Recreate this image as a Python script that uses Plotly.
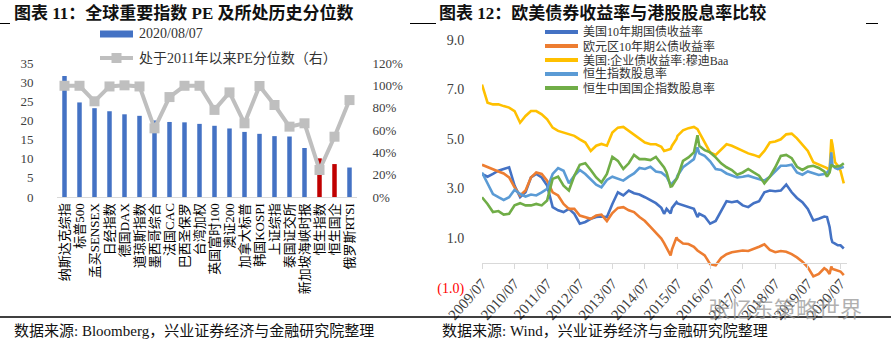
import plotly.graph_objects as go

W, H = 891, 347
SERIF = "Liberation Serif, Noto Sans CJK SC, serif"

# ---------------- Left chart data ----------------
INDEX_NAMES = ["纳斯达克综指", "标普500", "孟买SENSEX", "日经指数", "德国DAX", "道琼斯指数",
               "墨西哥综合", "法国CAC", "巴西圣保罗", "台湾加权", "英国富时100", "澳证200",
               "加拿大标普", "韩国KOSPI", "上证综指", "泰国证交所", "新加坡海峡时报",
               "恒生指数", "恒生国企", "俄罗斯RTSI"]
PE_VALUES = [31.6, 24.7, 23.2, 22.4, 21.6, 21.2, 20.0, 19.6, 19.5, 19.1,
             18.6, 17.9, 17.0, 16.5, 15.9, 15.8, 12.8, 10.1, 8.6, 7.7]
PE_PERCENTILE = [99.6, 99.6, 85.7, 99.0, 100.0, 99.0, 61.5, 89.5, 99.6, 99.6,
                 78.0, 93.7, 66.0, 99.4, 82.4, 63.0, 66.0, 24.2, 54.0, 86.8]
HIGHLIGHT = ["恒生指数", "恒生国企"]
PE_LABEL = "2020/08/07"
PCT_LABEL = "处于2011年以来PE分位数（右）"

# ---------------- Right chart data ----------------
DATES = [
    "2009-07-01", "2009-09-01", "2009-11-01",
    "2010-01-01", "2010-03-01", "2010-05-01", "2010-07-01", "2010-09-01", "2010-11-01",
    "2011-01-01", "2011-03-01", "2011-05-01", "2011-07-01", "2011-09-01", "2011-11-01",
    "2012-01-01", "2012-03-01", "2012-05-01", "2012-07-01", "2012-09-01", "2012-11-01",
    "2013-01-01", "2013-03-01", "2013-05-01", "2013-07-01", "2013-09-01", "2013-11-01",
    "2014-01-01", "2014-03-01", "2014-05-01", "2014-07-01", "2014-09-01", "2014-11-01",
    "2015-01-01", "2015-02-01", "2015-03-01", "2015-04-15", "2015-05-01", "2015-06-20", "2015-07-01", "2015-09-01", "2015-11-01",
    "2016-01-01", "2016-02-10", "2016-03-01", "2016-05-01", "2016-07-01", "2016-09-01", "2016-11-01",
    "2017-01-01", "2017-03-01", "2017-05-01", "2017-07-01", "2017-09-01", "2017-11-01",
    "2018-01-01", "2018-03-01", "2018-05-01", "2018-07-01", "2018-09-01", "2018-11-01",
    "2019-01-01", "2019-03-01", "2019-05-01", "2019-07-01", "2019-09-01", "2019-11-01",
    "2020-01-01", "2020-02-01", "2020-03-01", "2020-03-20", "2020-04-01", "2020-05-01", "2020-06-01", "2020-07-01", "2020-08-07",
]
US_10Y = [
    3.59, 3.48, 3.59,
    3.72, 3.79, 3.86, 3.12, 2.65, 2.85,
    3.45, 3.59, 3.45, 3.12, 2.25, 2.12,
    2.05, 2.18, 1.98, 1.58, 1.65, 1.78,
    1.85, 1.87, 1.85, 2.38, 2.85, 2.72,
    2.92, 2.81, 2.76, 2.65, 2.54, 2.41,
    2.22, 1.98, 2.18, 2.00, 2.22, 2.45, 2.40, 2.32, 2.25,
    2.18, 1.85, 1.98, 1.87, 1.58, 1.69, 2.12,
    2.49, 2.45, 2.49, 2.32, 2.25, 2.41,
    2.49, 2.85, 2.92, 2.89, 2.92, 3.16,
    2.85, 2.62, 2.45, 2.18, 1.71, 1.78,
    1.87, 1.85, 1.45, 0.98, 0.84, 0.78, 0.71, 0.71, 0.58,
]
EURO_10Y = [
    3.96, 3.86, 3.79,
    3.69, 3.61, 3.45, 3.05, 2.72, 2.92,
    3.45, 3.65, 3.59, 3.32, 2.85, 2.72,
    2.38, 2.18, 2.18, 1.91, 1.85, 1.78,
    1.91, 1.95, 1.69, 2.01, 2.22, 2.25,
    2.12, 2.05, 1.85, 1.69, 1.45, 1.20,
    0.98, 0.80, 0.60, 0.30, 0.55, 1.03, 0.95, 0.78, 0.76,
    0.65, 0.50, 0.45, 0.30, -0.05, -0.10, 0.20,
    0.35, 0.43, 0.45, 0.50, 0.48, 0.55,
    0.65, 0.75, 0.52, 0.43, 0.48, 0.45,
    0.35, 0.22, 0.05, -0.18, -0.55, -0.45,
    -0.22, -0.30, -0.45, -0.15, -0.25, -0.28, -0.30, -0.35, -0.50,
]
US_BAA = [
    7.20, 6.47, 6.40,
    6.40, 6.33, 6.27, 6.13, 5.66, 5.93,
    6.13, 6.13, 6.00, 5.80, 5.46, 5.33,
    5.26, 5.19, 5.13, 4.99, 4.86, 4.52,
    4.73, 4.80, 4.73, 5.26, 5.46, 5.49,
    5.33, 5.17, 5.03, 4.86, 4.79, 4.79,
    4.69, 4.52, 4.55, 4.60, 4.73, 5.00, 5.13, 5.35, 5.44,
    5.49, 5.40, 5.26, 4.86, 4.46, 4.36, 4.59,
    4.79, 4.73, 4.63, 4.50, 4.42, 4.36,
    4.28, 4.52, 4.86, 4.90, 4.99, 5.19,
    5.22, 5.03, 4.79, 4.52, 4.06, 3.96,
    3.88, 3.83, 3.72, 4.99, 4.79, 4.06, 3.92, 3.72, 3.21,
]
HSI_DY = [
    3.65, 3.19, 2.78,
    2.65, 2.54, 2.65, 2.95, 2.78, 2.68,
    2.76, 2.72, 2.85, 2.99, 3.59, 3.83,
    3.72, 3.21, 3.52, 3.75, 3.59, 3.39,
    3.16, 3.05, 3.35, 3.48, 3.39, 3.32,
    3.48, 3.61, 3.83, 3.79, 3.88, 3.69,
    3.65, 3.55, 3.48, 3.15, 3.21, 3.40, 3.52, 3.86, 4.02,
    4.19, 4.66, 4.42, 4.32, 4.10, 3.79, 3.75,
    3.61, 3.52, 3.45, 3.48, 3.52, 3.45,
    3.39, 3.32, 3.48, 3.72, 3.92, 3.92,
    3.96, 3.65, 3.56, 3.69, 3.61, 3.55,
    3.59, 3.65, 3.75, 4.46, 3.96, 3.83, 3.79, 3.83, 3.88,
]
HSCEI_DY = [
    2.65, 2.38, 2.05,
    2.09, 1.95, 1.98, 2.32, 2.41, 2.32,
    2.32, 2.38, 2.32, 2.52, 3.39, 3.48,
    3.12, 2.92, 3.52, 3.96, 4.02, 3.75,
    3.45, 3.25, 3.59, 4.28, 4.12, 3.79,
    4.02, 4.36, 4.19, 4.19, 4.15, 4.28,
    4.02, 3.85, 3.65, 3.08, 3.10, 3.35, 3.45, 4.12, 4.26,
    4.46, 5.15, 4.73, 4.55, 4.46, 4.26, 4.02,
    3.86, 3.75, 3.56, 3.65, 3.79, 3.65,
    3.52, 3.21, 3.48, 3.86, 4.32, 4.36,
    4.23, 3.88, 3.75, 3.88, 3.92, 3.83,
    3.69, 3.48, 3.65, 3.96, 3.92, 3.88, 3.91, 3.92, 4.02,
]
SERIES_NAMES = ["美国10年期国债收益率", "欧元区10年期公债收益率", "美国:企业债收益率:穆迪Baa",
                "恒生指数股息率", "恒生中国国企指数股息率"]
SERIES_VALUES = [US_10Y, EURO_10Y, US_BAA, HSI_DY, HSCEI_DY]
SERIES_COLORS = ["#4472C4", "#ED7D31", "#FFC000", "#5B9BD5", "#70AD47"]
XTICK_TEXT = ["2009/07", "2010/07", "2011/07", "2012/07", "2013/07", "2014/07",
              "2015/07", "2016/07", "2017/07", "2018/07", "2019/07", "2020/07"]
YTICKS_R = [-1, 1, 3, 5, 7, 9]

TITLE_L = "图表 11：全球重要指数 PE 及所处历史分位数"
TITLE_R = "图表 12：欧美债券收益率与港股股息率比较"
SOURCE_L = "数据来源: Bloomberg，兴业证券经济与金融研究院整理"
SOURCE_R = "数据来源: Wind，兴业证券经济与金融研究院整理"
WATERMARK = "张忆东策略世界"


def px(x):
    return x / W


def py(y):
    return 1 - y / H


BLUE = "#4472C4"
RED = "#C00000"
GRAY = "#BFBFBF"

fig = go.Figure()

bar_colors = [RED if n in HIGHLIGHT else BLUE for n in INDEX_NAMES]
fig.add_trace(go.Bar(x=INDEX_NAMES, y=PE_VALUES, width=0.3, name=PE_LABEL,
                     marker=dict(color=bar_colors, line=dict(width=0)),
                     showlegend=False, xaxis="x", yaxis="y"))
fig.add_trace(go.Scatter(x=INDEX_NAMES, y=[v / 100 for v in PE_PERCENTILE], name=PCT_LABEL,
                         mode="lines+markers", line=dict(color=GRAY, width=4),
                         marker=dict(symbol="square", size=10, color=GRAY),
                         showlegend=False, xaxis="x", yaxis="y2"))

for name, vals, color in zip(SERIES_NAMES, SERIES_VALUES, SERIES_COLORS):
    fig.add_trace(go.Scatter(x=DATES, y=vals, name=name, mode="lines",
                             line=dict(color=color, width=2.6),
                             showlegend=False, xaxis="x2", yaxis="y3"))

# geometry (pixel boxes of the two plot areas)
L_BOX = (57, 357, 197, 63)
R_BOX = (482, 847, 287.6, 40)
R_YMIN, R_YMAX = YTICKS_R[0], YTICKS_R[-1]
r_dom = [py(R_BOX[2]), py(R_BOX[3])]
x2_pos = r_dom[0] + (0 - R_YMIN) / (R_YMAX - R_YMIN) * (r_dom[1] - r_dom[0])

xtick_vals = [t.replace("/", "-") + "-01" for t in XTICK_TEXT]
ytick_text_r = [f"{v:.1f}" if v >= 0 else f'<span style="color:#FF0000">({abs(v):.1f})</span>'
                for v in YTICKS_R]

tickfont = dict(family=SERIF, size=13, color="#404040")
clear = "rgba(0,0,0,0)"

fig.update_layout(
    width=W, height=H, autosize=False,
    margin=dict(l=0, r=0, t=0, b=0, pad=0, autoexpand=False),
    paper_bgcolor="white", plot_bgcolor="white",
    showlegend=False,
    xaxis=dict(domain=[px(L_BOX[0]), px(L_BOX[1])], anchor="y", type="category",
               range=[-0.5, len(INDEX_NAMES) - 0.5], tickmode="linear", tick0=0, dtick=1,
               showline=True, linecolor="#D9D9D9", linewidth=1, ticks="",
               tickangle=-90, tickfont=dict(family=SERIF, size=13, color="#000000"),
               showgrid=False, zeroline=False, automargin=False),
    yaxis=dict(domain=[py(L_BOX[2]), py(L_BOX[3])], anchor="x", range=[0, 35], dtick=5, tick0=0,
               showgrid=False, zeroline=False, showline=False, automargin=False,
               ticks="outside", ticklen=20, tickcolor=clear, tickfont=tickfont),
    yaxis2=dict(overlaying="y", side="right", anchor="x", range=[0, 1.2], dtick=0.2, tick0=0,
                tickformat=".0%", showgrid=False, zeroline=False, showline=False, automargin=False,
                ticks="outside", ticklen=12, tickcolor=clear, tickfont=tickfont),
    xaxis2=dict(domain=[px(R_BOX[0]), px(R_BOX[1])], anchor="free", position=x2_pos,
                type="date", range=["2009-07-01", "2020-09-12"],
                tickmode="array", tickvals=xtick_vals, ticktext=XTICK_TEXT, tickangle=-48,
                ticks="outside", ticklen=5, tickcolor="#D9D9D9",
                showline=True, linecolor="#D9D9D9", linewidth=1,
                showgrid=False, zeroline=False, automargin=False,
                tickfont=dict(family=SERIF, size=15, color="#404040")),
    yaxis3=dict(domain=r_dom, anchor="x2", range=[R_YMIN, R_YMAX],
                tickmode="array", tickvals=YTICKS_R, ticktext=ytick_text_r,
                showgrid=False, zeroline=False, showline=False, automargin=False,
                ticks="outside", ticklen=14, tickcolor=clear,
                tickfont=dict(family=SERIF, size=14, color="#404040")),
)

shapes = []
annotations = []

# titles
for txt, x in ((TITLE_L, 12), (TITLE_R, 437)):
    annotations.append(dict(text=f"<b>{txt}</b>", x=px(x), y=py(13), xref="paper", yref="paper",
                            xanchor="left", yanchor="middle", showarrow=False,
                            font=dict(family=SERIF, size=17, color="#111111")))
# sources
for txt, x in ((SOURCE_L, 12), (SOURCE_R, 440)):
    annotations.append(dict(text=txt, x=px(x), y=py(330), xref="paper", yref="paper",
                            xanchor="left", yanchor="middle", showarrow=False,
                            font=dict(family=SERIF, size=15, color="#111111")))

# left legend
shapes.append(dict(type="rect", xref="paper", yref="paper", x0=px(100), x1=px(133),
                   y0=py(37.5), y1=py(30.5), fillcolor=BLUE, line=dict(width=0)))
shapes.append(dict(type="line", xref="paper", yref="paper", x0=px(100), x1=px(133),
                   y0=py(58), y1=py(58), line=dict(color=GRAY, width=4)))
shapes.append(dict(type="rect", xref="paper", yref="paper", x0=px(111.5), x1=px(121.5),
                   y0=py(63), y1=py(53), fillcolor=GRAY, line=dict(width=0)))
for txt, y in ((PE_LABEL, 34), (PCT_LABEL, 58)):
    annotations.append(dict(text=txt, x=px(137), y=py(y), xref="paper", yref="paper",
                            xanchor="left", yanchor="middle", showarrow=False,
                            font=dict(family=SERIF, size=14, color="#333333")))

# right legend
for i, (name, color) in enumerate(zip(SERIES_NAMES, SERIES_COLORS)):
    y = 32 + 14 * i
    shapes.append(dict(type="line", xref="paper", yref="paper", x0=px(545), x1=px(578),
                       y0=py(y), y1=py(y), line=dict(color=color, width=4)))
    annotations.append(dict(text=name, x=px(582), y=py(y), xref="paper", yref="paper",
                            xanchor="left", yanchor="middle", showarrow=False, borderpad=0,
                            font=dict(family=SERIF, size=12, color="#333333")))

# watermark
annotations.append(dict(text=WATERMARK, x=px(785), y=py(307), xref="paper", yref="paper",
                        xanchor="center", yanchor="middle", showarrow=False,
                        font=dict(family="Noto Sans CJK SC", size=22, color="rgba(150,150,150,0.75)")))

# page rules
shapes.append(dict(type="line", xref="paper", yref="paper", x0=0, x1=1, y0=py(317), y1=py(317),
                   line=dict(color="#000000", width=1.3)))
for x0, x1 in ((0, 10), (410, 436), (866, 878)):
    shapes.append(dict(type="line", xref="paper", yref="paper", x0=px(x0), x1=px(x1),
                       y0=py(23.5), y1=py(23.5), line=dict(color="#000000", width=1)))

fig.update_layout(shapes=shapes, annotations=annotations)

fig.write_html("out.html")
